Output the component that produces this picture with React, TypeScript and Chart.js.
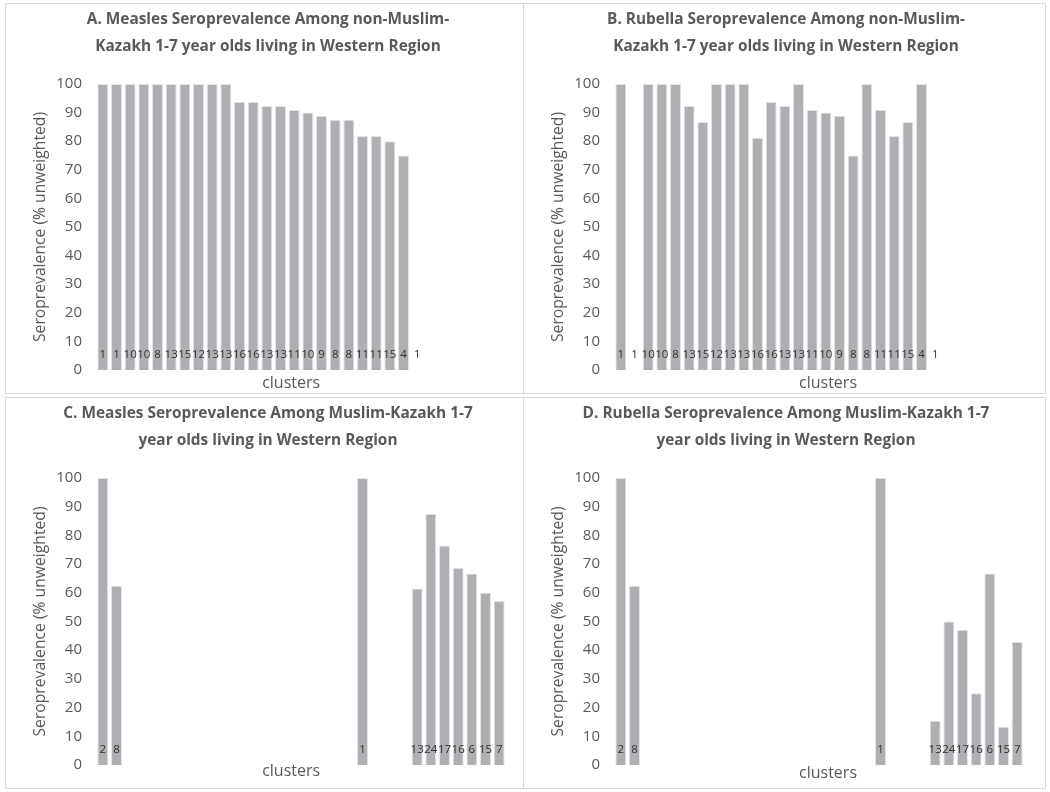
import React, { useEffect, useRef } from "react";
import { Chart, registerables } from "chart.js";
Chart.register(...registerables);

// cluster slots along the category axis
const clusterSlots = Array.from({ length: 30 }, (_, i) => String(i + 1));

// number of children tested per cluster (data labels at bar base)
const nNonMuslim = ["1", "1", "10", "10", "8", "13", "15", "12", "13", "13", "16", "16", "13", "13", "11", "10", "9", "8", "8", "11", "11", "15", "4", "1"];
const nMuslim = ["2", "8", null, null, null, null, null, null, null, null, null, null, null, null, null, null, null, null, null, "1", null, null, null, "13", "24", "17", "16", "6", "15", "7"];

// seroprevalence (% unweighted)
const measlesNonMuslim = [100, 100, 100, 100, 100, 100, 100, 100, 100, 100, 93.75, 93.75, 92.3, 92.3, 90.9, 90, 88.9, 87.5, 87.5, 81.8, 81.8, 80, 75, 0];
const rubellaNonMuslim = [100, 0, 100, 100, 100, 92.3, 86.7, 100, 100, 100, 81.25, 93.75, 92.3, 100, 90.9, 90, 88.9, 75, 100, 90.9, 81.8, 86.7, 100, 0];
const measlesMuslim = [100, 62.5, null, null, null, null, null, null, null, null, null, null, null, null, null, null, null, null, null, 100, null, null, null, 61.5, 87.5, 76.5, 68.75, 66.7, 60, 57.1];
const rubellaMuslim = [100, 62.5, null, null, null, null, null, null, null, null, null, null, null, null, null, null, null, null, null, 100, null, null, null, 15.4, 50, 47.1, 25, 66.7, 13.3, 42.9];

const yTicks = [0, 10, 20, 30, 40, 50, 60, 70, 80, 90, 100];

const titleA = ["A. Measles Seroprevalence Among non-Muslim-", "Kazakh 1-7 year olds living in Western Region"];
const titleB = ["B. Rubella Seroprevalence Among non-Muslim-", "Kazakh 1-7 year olds living in Western Region"];
const titleC = ["C. Measles Seroprevalence Among Muslim-Kazakh 1-7", "year olds living in Western Region"];
const titleD = ["D. Rubella Seroprevalence Among Muslim-Kazakh 1-7", "year olds living in Western Region"];

const yTitle = "Seroprevalence (% unweighted)";
const xTitle = "clusters";

const FONT = "'Open Sans', 'Liberation Sans', sans-serif";
const TEXT = "#595959";

type PanelProps = {
  title: string[];
  values: (number | null)[];
  nLabels: (string | null)[];
  width: number;
  height: number;
  plotLeft: number;
  padRight: number;
  padBottom: number;
  xTitleFrac: number;
  xTitleOffset: number;
};

function Panel(p: PanelProps) {
  const ref = useRef<HTMLCanvasElement | null>(null);
  useEffect(() => {
    if (!ref.current) return;
    const labelPlugin = {
      id: "nlabels",
      afterDatasetsDraw(chart: any) {
        const ctx = chart.ctx;
        const x = chart.scales.x;
        const area = chart.chartArea;
        ctx.save();
        ctx.font = `11.5px ${FONT}`;
        ctx.fillStyle = "#333333";
        ctx.textAlign = "center";
        ctx.textBaseline = "middle";
        p.nLabels.forEach((t, i) => {
          if (t == null) return;
          ctx.fillText(t, x.getPixelForValue(i), area.bottom - 15);
        });
        ctx.font = `16px ${FONT}`;
        ctx.fillStyle = TEXT;
        ctx.fillText(xTitle, area.left + p.xTitleFrac * (area.right - area.left), area.bottom + p.xTitleOffset);
        ctx.restore();
      },
    };
    const chart = new Chart(ref.current, {
      type: "bar",
      data: {
        labels: clusterSlots,
        datasets: [
          {
            data: p.values as any,
            backgroundColor: "#aeafb3",
            borderColor: "#e2e2e2",
            borderWidth: 1,
            barPercentage: 0.8,
            categoryPercentage: 1,
          },
        ],
      },
      options: {
        animation: false,
        responsive: false,
        layout: { padding: { left: 24, right: p.padRight, top: 0, bottom: p.padBottom } },
        plugins: {
          legend: { display: false },
          tooltip: { enabled: false },
          title: {
            display: true,
            text: p.title,
            color: TEXT,
            font: { family: FONT, size: 15.4, weight: "bold", lineHeight: 27 / 15.4 },
            padding: { top: 2, bottom: 24 },
          },
        },
        scales: {
          x: { display: false },
          y: {
            min: 0,
            max: 100,
            afterBuildTicks(scale: any) {
              scale.ticks = yTicks.map((v) => ({ value: v }));
            },
            afterFit(scale: any) {
              scale.width = p.plotLeft - 24;
            },
            grid: { display: false, drawTicks: false },
            border: { display: false },
            ticks: { color: TEXT, font: { family: FONT, size: 15 }, padding: 14 },
            title: {
              display: true,
              text: yTitle,
              color: TEXT,
              font: { family: FONT, size: 15.7 },
              padding: { top: 1, bottom: 0 },
            },
          },
        },
      },
      plugins: [labelPlugin],
    });
    return () => chart.destroy();
  }, []);
  return <canvas ref={ref} width={p.width} height={p.height} style={{ display: "block" }} />;
}

const boxStyle = (left: number, top: number, w: number, h: number): React.CSSProperties => ({
  position: "absolute",
  left,
  top,
  width: w,
  height: h,
  border: "1px solid #d9d9d9",
  boxSizing: "border-box",
  background: "#fff",
});

export default function App() {
  return (
    <div style={{ position: "absolute", left: 0, top: 0, width: 1050, height: 792, background: "#fff" }}>
      <div style={boxStyle(5, 3, 519, 391)}>
        <Panel title={titleA} values={measlesNonMuslim} nLabels={nNonMuslim} width={517} height={389} plotLeft={90} padRight={17} padBottom={20} xTitleFrac={0.476} xTitleOffset={13} />
      </div>
      <div style={boxStyle(523, 3, 523, 391)}>
        <Panel title={titleB} values={rubellaNonMuslim} nLabels={nNonMuslim} width={521} height={389} plotLeft={90} padRight={21} padBottom={20} xTitleFrac={0.522} xTitleOffset={13} />
      </div>
      <div style={boxStyle(5, 397, 519, 392)}>
        <Panel title={titleC} values={measlesMuslim} nLabels={nMuslim} width={517} height={390} plotLeft={90} padRight={17} padBottom={22} xTitleFrac={0.476} xTitleOffset={6} />
      </div>
      <div style={boxStyle(523, 397, 523, 392)}>
        <Panel title={titleD} values={rubellaMuslim} nLabels={nMuslim} width={521} height={390} plotLeft={90} padRight={21} padBottom={22} xTitleFrac={0.522} xTitleOffset={8} />
      </div>
    </div>
  );
}
